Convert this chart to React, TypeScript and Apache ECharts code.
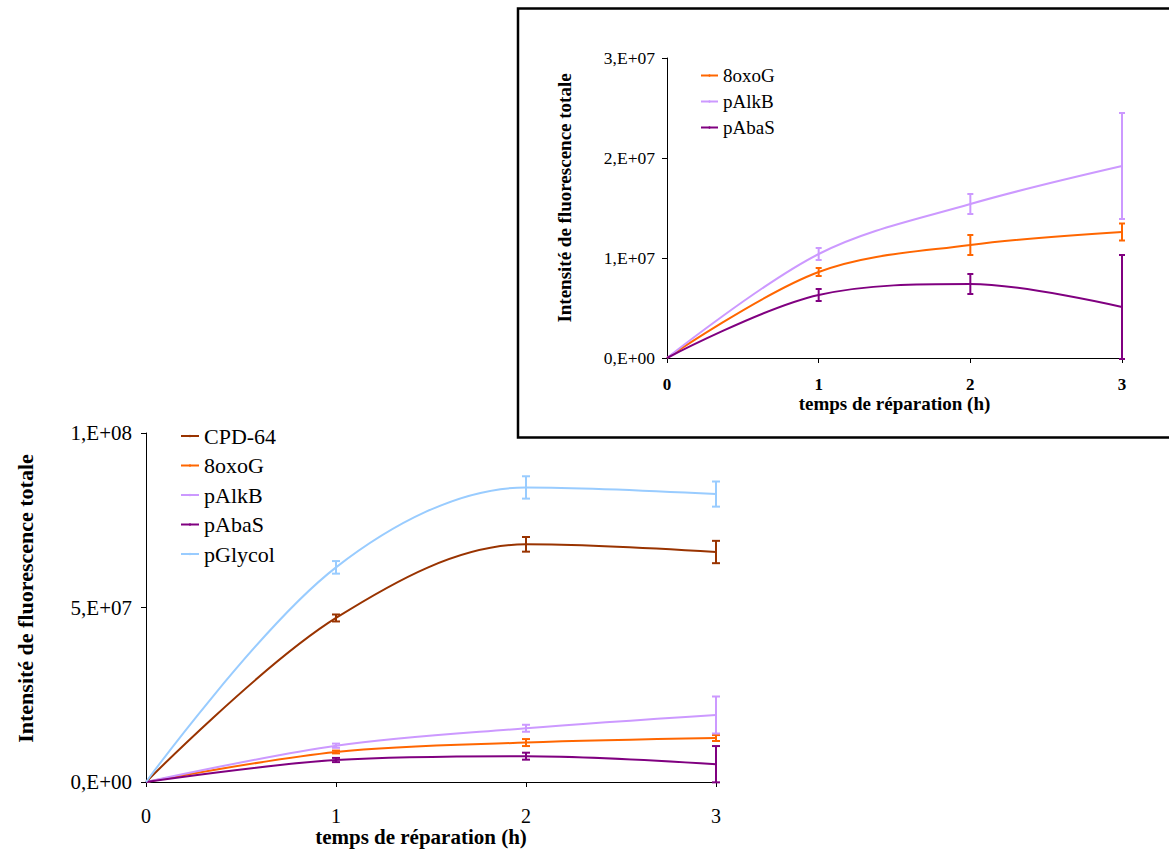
import React, { useEffect, useRef } from "react";
import * as echarts from "echarts";

const hours = [0, 1, 2, 3];
const seriesNames = ["CPD-64", "8oxoG", "pAlkB", "pAbaS", "pGlycol"];
const insetNames = ["8oxoG", "pAlkB", "pAbaS"];
const colors: Record<string, string> = {
  "CPD-64": "#993300",
  "8oxoG": "#FF6600",
  pAlkB: "#CC99FF",
  pAbaS: "#800080",
  pGlycol: "#99CCFF",
};
const values: Record<string, number[]> = {
  "CPD-64": [0, 4.7e7, 6.81e7, 6.59e7],
  "8oxoG": [0, 8.6e6, 1.13e7, 1.26e7],
  pAlkB: [0, 1.04e7, 1.54e7, 1.92e7],
  pAbaS: [0, 6.3e6, 7.4e6, 5.1e6],
  pGlycol: [0, 6.15e7, 8.44e7, 8.25e7],
};
const errors: Record<string, number[]> = {
  "CPD-64": [0, 1.0e6, 2.1e6, 3.2e6],
  "8oxoG": [0, 4e5, 1.0e6, 8.5e5],
  pAlkB: [0, 6e5, 1.0e6, 5.3e6],
  pAbaS: [0, 6e5, 1.0e6, 5.2e6],
  pGlycol: [0, 1.8e6, 3.2e6, 3.6e6],
};
const xTicks = [0, 1, 2, 3];
const mainYTicks = [0, 5e7, 1e8];
const insetYTicks = [0, 1e7, 2e7, 3e7];

const FONT = "Liberation Serif";

function sci(v: number): string {
  if (v === 0) return "0,E+00";
  const [m, e] = v.toExponential(0).split("e");
  const sign = e.startsWith("-") ? "-" : "+";
  const num = e.replace("+", "").replace("-", "");
  return `${m},E${sign}${num.padStart(2, "0")}`;
}

function lineSeries(name: string, axisIdx: number) {
  return {
    type: "line",
    name,
    xAxisIndex: axisIdx,
    yAxisIndex: axisIdx,
    smooth: 0.34,
    symbol: "none",
    data: hours.map((h, i) => [h, values[name][i]]),
    lineStyle: { color: colors[name], width: 2 },
    itemStyle: { color: colors[name] },
    z: 3,
  };
}

function errSeries(name: string, axisIdx: number, cap: number) {
  return {
    type: "custom",
    name: "err-" + name,
    xAxisIndex: axisIdx,
    yAxisIndex: axisIdx,
    encode: { x: 0, y: [1, 2] },
    data: hours
      .map((h, i) => [h, values[name][i] - errors[name][i], values[name][i] + errors[name][i]])
      .filter((d, i) => errors[name][i] > 0),
    renderItem: (params: any, api: any) => {
      const x = api.value(0);
      const lo = api.coord([x, api.value(1)]);
      const hi = api.coord([x, api.value(2)]);
      const style = { stroke: colors[name], lineWidth: 2 };
      return {
        type: "group",
        children: [
          { type: "line", shape: { x1: lo[0], y1: lo[1], x2: hi[0], y2: hi[1] }, style },
          { type: "line", shape: { x1: lo[0] - cap, y1: lo[1], x2: lo[0] + cap, y2: lo[1] }, style },
          { type: "line", shape: { x1: hi[0] - cap, y1: hi[1], x2: hi[0] + cap, y2: hi[1] }, style },
        ],
      };
    },
    z: 4,
  };
}

function makeYAxis(idx: number, max: number, interval: number, fs: number, margin: number, nameGap: number, nameFs: number, namePad: number[]) {
  return {
    type: "value",
    gridIndex: idx,
    min: 0,
    max,
    interval,
    splitLine: { show: false },
    axisLine: { show: true, lineStyle: { color: "#000", width: 1 } },
    axisTick: { show: true, length: 5, lineStyle: { color: "#000" } },
    axisLabel: { formatter: (v: number) => sci(v), fontFamily: FONT, fontSize: fs, color: "#000", margin },
    name: "Intensité de fluorescence totale",
    nameLocation: "middle",
    nameGap,
    nameTextStyle: { fontFamily: FONT, fontSize: nameFs, fontWeight: "bold", color: "#000", padding: namePad },
  };
}

function makeXAxis(idx: number, fs: number, bold: boolean, margin: number, nameGap: number, nameFs: number, namePad: number[]) {
  return {
    type: "value",
    gridIndex: idx,
    min: 0,
    max: 3,
    interval: 1,
    splitLine: { show: false },
    axisLine: { show: true, onZero: false, lineStyle: { color: "#000", width: 1 } },
    axisTick: { show: true, length: 5, lineStyle: { color: "#000" } },
    axisLabel: {
      formatter: (v: number) => (xTicks.includes(v) ? String(v) : ""),
      fontFamily: FONT,
      fontSize: fs,
      fontWeight: bold ? "bold" : "normal",
      color: "#000",
      margin,
    },
    name: "temps de réparation (h)",
    nameLocation: "middle",
    nameGap,
    nameTextStyle: { fontFamily: FONT, fontSize: nameFs, fontWeight: "bold", color: "#000", padding: namePad },
  };
}

export default function App() {
  const ref = useRef<HTMLDivElement>(null);
  useEffect(() => {
    if (!ref.current) return;
    const chart = echarts.init(ref.current, undefined, { renderer: "svg" });
    const option: any = {
      animation: false,
      backgroundColor: "#fff",
      textStyle: { fontFamily: FONT },
      graphic: [
        {
          type: "rect",
          z: -1,
          shape: { x: 518, y: 8.5, width: 700, height: 429 },
          style: { fill: "none", stroke: "#000", lineWidth: 2.5 },
        },
      ],
      grid: [
        { left: 146, top: 433, width: 570, height: 349, containLabel: false },
        { left: 667, top: 58, width: 455, height: 300, containLabel: false },
      ],
      xAxis: [
        makeXAxis(0, 20, false, 24, 43, 21, [0, 20, 0, 0]),
        makeXAxis(1, 17, true, 18, 33, 19, [0, 0, 0, 0]),
      ],
      yAxis: [
        makeYAxis(0, mainYTicks[mainYTicks.length - 1], mainYTicks[1], 21, 14, 110, 22, [0, 0, 0, 18]),
        makeYAxis(1, insetYTicks[insetYTicks.length - 1], insetYTicks[1], 17.5, 12, 93, 19, [0, 0, 0, 20]),
      ],
      legend: [
        {
          data: seriesNames,
          orient: "vertical",
          left: 175,
          top: 420,
          itemWidth: 18,
          itemHeight: 3,
          itemGap: 7.5,
          textStyle: { fontFamily: FONT, fontSize: 22, lineHeight: 22, color: "#000" },
        },
        {
          data: insetNames,
          orient: "vertical",
          left: 695,
          top: 61,
          itemWidth: 17,
          itemHeight: 3,
          itemGap: 7,
          textStyle: { fontFamily: FONT, fontSize: 19, lineHeight: 18, color: "#000" },
        },
      ],
      series: [
        ...seriesNames.map((n) => lineSeries(n, 0)),
        ...seriesNames.map((n) => errSeries(n, 0, 4)),
        ...insetNames.map((n) => lineSeries(n, 1)),
        ...insetNames.map((n) => errSeries(n, 1, 3)),
      ],
    };
    chart.setOption(option);
    return () => chart.dispose();
  }, []);
  return (
    <div
      ref={ref}
      style={{ position: "absolute", left: 0, top: 0, width: 1169, height: 852 }}
    />
  );
}
